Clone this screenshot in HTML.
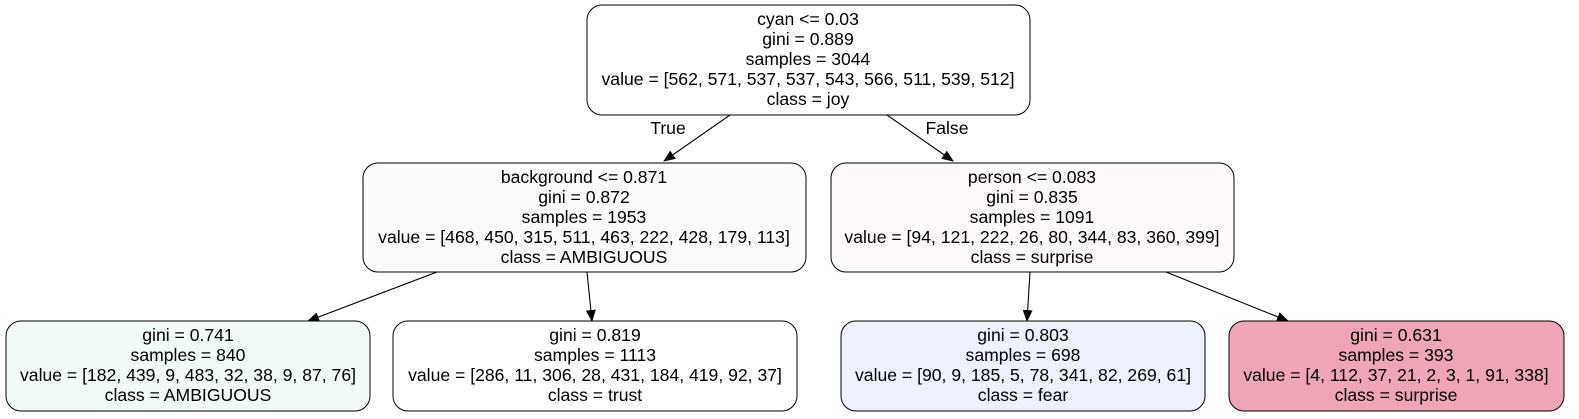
<!DOCTYPE html>
<html><head><meta charset="utf-8"><style>
body{margin:0;background:#fff}
svg{display:block}
text{font-family:"Liberation Sans",Arial,sans-serif;font-size:17.6px;fill:#000}
</style></head><body>
<svg width="1579" height="419" viewBox="0 0 1579 419">
<defs><marker id="ah" markerWidth="12" markerHeight="10" refX="11" refY="5" orient="auto" markerUnits="userSpaceOnUse"><path d="M0,0 L12,5 L0,10 Z" fill="#000"/></marker></defs>
<g stroke="#000" stroke-width="1.1" fill="none">
<line x1="730" y1="115" x2="664" y2="161" marker-end="url(#ah)"/>
<line x1="887" y1="115" x2="953" y2="161" marker-end="url(#ah)"/>
<line x1="437" y1="272" x2="308" y2="321" marker-end="url(#ah)"/>
<line x1="587" y1="272" x2="592" y2="321" marker-end="url(#ah)"/>
<line x1="1030" y1="272" x2="1027" y2="321" marker-end="url(#ah)"/>
<line x1="1166" y1="272" x2="1288" y2="321" marker-end="url(#ah)"/>
</g>
<text x="668" y="134" text-anchor="middle">True</text>
<text x="947" y="134" text-anchor="middle">False</text>

<g>
<rect x="587" y="5" width="443" height="110" rx="15" fill="#fff" stroke="#000"/>
<text x="808" y="25" text-anchor="middle">cyan &lt;= 0.03</text>
<text x="808" y="45" text-anchor="middle">gini = 0.889</text>
<text x="808" y="65" text-anchor="middle">samples = 3044</text>
<text x="808" y="85" text-anchor="middle">value = [562, 571, 537, 537, 543, 566, 511, 539, 512]</text>
<text x="808" y="105" text-anchor="middle">class = joy</text>
</g>
<g>
<rect x="363" y="163" width="443" height="109" rx="15" fill="#fafdfc" stroke="#000"/>
<text x="584" y="183" text-anchor="middle">background &lt;= 0.871</text>
<text x="584" y="203" text-anchor="middle">gini = 0.872</text>
<text x="584" y="223" text-anchor="middle">samples = 1953</text>
<text x="584" y="243" text-anchor="middle">value = [468, 450, 315, 511, 463, 222, 428, 179, 113]</text>
<text x="584" y="263" text-anchor="middle">class = AMBIGUOUS</text>
</g>
<g>
<rect x="831" y="163" width="403" height="109" rx="15" fill="#fefafb" stroke="#000"/>
<text x="1032" y="183" text-anchor="middle">person &lt;= 0.083</text>
<text x="1032" y="203" text-anchor="middle">gini = 0.835</text>
<text x="1032" y="223" text-anchor="middle">samples = 1091</text>
<text x="1032" y="243" text-anchor="middle">value = [94, 121, 222, 26, 80, 344, 83, 360, 399]</text>
<text x="1032" y="263" text-anchor="middle">class = surprise</text>
</g>
<g>
<rect x="6" y="321" width="364" height="90" rx="15" fill="#f2fbf6" stroke="#000"/>
<text x="188" y="341" text-anchor="middle">gini = 0.741</text>
<text x="188" y="361" text-anchor="middle">samples = 840</text>
<text x="188" y="381" text-anchor="middle">value = [182, 439, 9, 483, 32, 38, 9, 87, 76]</text>
<text x="188" y="401" text-anchor="middle">class = AMBIGUOUS</text>
</g>
<g>
<rect x="393" y="321" width="404" height="90" rx="15" fill="#fefffe" stroke="#000"/>
<text x="595" y="341" text-anchor="middle">gini = 0.819</text>
<text x="595" y="361" text-anchor="middle">samples = 1113</text>
<text x="595" y="381" text-anchor="middle">value = [286, 11, 306, 28, 431, 184, 419, 92, 37]</text>
<text x="595" y="401" text-anchor="middle">class = trust</text>
</g>
<g>
<rect x="841" y="321" width="364" height="90" rx="15" fill="#edf1fc" stroke="#000"/>
<text x="1023" y="341" text-anchor="middle">gini = 0.803</text>
<text x="1023" y="361" text-anchor="middle">samples = 698</text>
<text x="1023" y="381" text-anchor="middle">value = [90, 9, 185, 5, 78, 341, 82, 269, 61]</text>
<text x="1023" y="401" text-anchor="middle">class = fear</text>
</g>
<g>
<rect x="1229" y="321" width="335" height="90" rx="15" fill="#f0a5b6" stroke="#000"/>
<text x="1396" y="341" text-anchor="middle">gini = 0.631</text>
<text x="1396" y="361" text-anchor="middle">samples = 393</text>
<text x="1396" y="381" text-anchor="middle">value = [4, 112, 37, 21, 2, 3, 1, 91, 338]</text>
<text x="1396" y="401" text-anchor="middle">class = surprise</text>
</g>
</svg>
</body></html>
